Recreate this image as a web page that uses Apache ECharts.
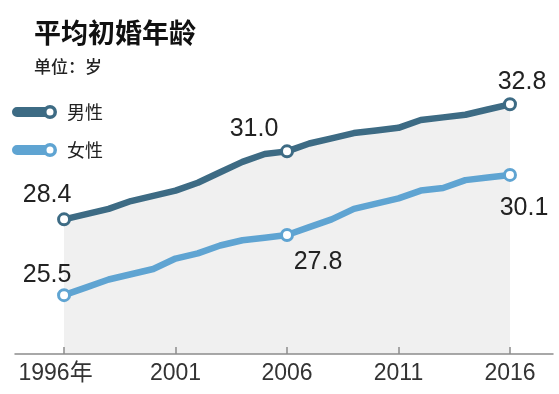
<!DOCTYPE html>
<html><head><meta charset="utf-8">
<script src="https://cdn.jsdelivr.net/npm/echarts@6/dist/echarts.min.js"></script>
<style>html,body{margin:0;padding:0;background:#fff}#c{width:559px;height:394px}</style>
</head><body><div id="c"></div>
<script>
const years = [1996, 1997, 1998, 1999, 2000, 2001, 2002, 2003, 2004, 2005, 2006, 2007, 2008, 2009, 2010, 2011, 2012, 2013, 2014, 2015, 2016];
const maleAges = [28.4, 28.6, 28.8, 29.1, 29.3, 29.5, 29.8, 30.2, 30.6, 30.9, 31.0, 31.3, 31.5, 31.7, 31.8, 31.9, 32.2, 32.3, 32.4, 32.6, 32.8];
const femaleAges = [25.5, 25.8, 26.1, 26.3, 26.5, 26.9, 27.1, 27.4, 27.6, 27.7, 27.8, 28.1, 28.4, 28.8, 29.0, 29.2, 29.5, 29.6, 29.9, 30.0, 30.1];
const seriesNames = ['男性', '女性'];
const tickYears = [1996, 2001, 2006, 2011, 2016];
const tickLabels = ['1996年', '2001', '2006', '2011', '2016'];
const labeledYears = [1996, 2006, 2016];
const titleText = '平均初婚年龄';
const subtitleText = '单位：岁';

const COLORS = ['#3d6b84', '#5fa4d2'];
const LATIN = 'Liberation Sans, Arial, Noto Sans CJK SC, sans-serif';
const CJK = 'Noto Sans CJK SC, sans-serif';
const labelOffsets = {
  '男性': {1996: [-17, -24], 2006: [-33, -22], 2016: [12, -22]},
  '女性': {1996: [-17, -20], 2006: [31, 27], 2016: [14, 33]}
};

function buildData(name, values) {
  return years.map((y, i) => {
    const item = {value: [y, values[i]]};
    if (labeledYears.includes(y)) {
      item.symbol = 'circle';
      item.label = {show: true, offset: labelOffsets[name][y]};
    } else {
      item.symbol = 'none';
    }
    return item;
  });
}

function makeSeries(idx, values, withArea) {
  const s = {
    name: seriesNames[idx],
    type: 'line',
    data: buildData(seriesNames[idx], values),
    showAllSymbol: true,
    symbolSize: 11,
    z: 3 + idx,
    lineStyle: {color: COLORS[idx], width: 6.5, cap: 'round', join: 'round'},
    itemStyle: {color: '#fff', borderColor: COLORS[idx], borderWidth: 3},
    label: {
      show: false, position: 'inside', align: 'center', verticalAlign: 'middle',
      fontSize: 25, color: '#222', fontFamily: LATIN,
      formatter: p => p.value[1].toFixed(1)
    },
    emphasis: {disabled: true}
  };
  if (withArea) s.areaStyle = {color: '#f0f0f0', opacity: 1, origin: 'start'};
  return s;
}

const legendIcon = 'path://M5,2L33,2L33,12L5,12A5,5,0,0,1,5,2Z M31,7A7,7,0,1,1,45,7A7,7,0,1,1,31,7Z M34.5,7A3.5,3.5,0,1,0,41.5,7A3.5,3.5,0,1,0,34.5,7Z';

const chart = echarts.init(document.getElementById('c'), null, {renderer: 'canvas'});
chart.setOption({
  animation: false,
  backgroundColor: '#fff',
  title: {
    text: titleText, subtext: subtitleText, left: 34, top: 19, padding: 0, itemGap: 12,
    textStyle: {fontSize: 27, fontWeight: 'bold', color: '#111', fontFamily: CJK},
    subtextStyle: {fontSize: 17, fontWeight: 500, color: '#222', fontFamily: CJK}
  },
  legend: {
    orient: 'vertical', left: 12, top: 103, padding: 0, itemGap: 20,
    itemWidth: 45, itemHeight: 14, icon: legendIcon, selectedMode: false,
    itemStyle: {borderWidth: 0},
    textStyle: {fontSize: 18, color: '#222', fontFamily: CJK, padding: [0, 0, 0, 5]},
    data: seriesNames.map((n, i) => ({name: n, itemStyle: {color: COLORS[i], borderWidth: 0}}))
  },
  grid: {left: 15, right: 6, top: 86, bottom: 40, containLabel: false, outerBoundsMode: 'none'},
  xAxis: {
    type: 'value', min: 1993.8, max: 2017.93, z: 10,
    axisLine: {show: true, lineStyle: {color: '#8c8c8c', width: 1.5}},
    axisTick: {show: true, inside: true, length: 7, customValues: tickYears, lineStyle: {color: '#8c8c8c', width: 1.5}},
    axisLabel: {
      customValues: tickYears, fontSize: 23, color: '#333', margin: 8, fontFamily: LATIN,
      formatter: v => {
        const i = tickYears.indexOf(Math.round(v));
        if (i < 0) return '';
        return i === 0 ? '{f|' + tickLabels[i] + '}' : tickLabels[i];
      },
      rich: {f: {fontSize: 23, color: '#333', fontFamily: LATIN, padding: [0, 17, 0, 0]}}
    },
    splitLine: {show: false}
  },
  yAxis: {type: 'value', min: 23.25, max: 33.5, show: false, splitLine: {show: false}},
  series: [makeSeries(0, maleAges, true), makeSeries(1, femaleAges, false)]
});
</script>
</body></html>
